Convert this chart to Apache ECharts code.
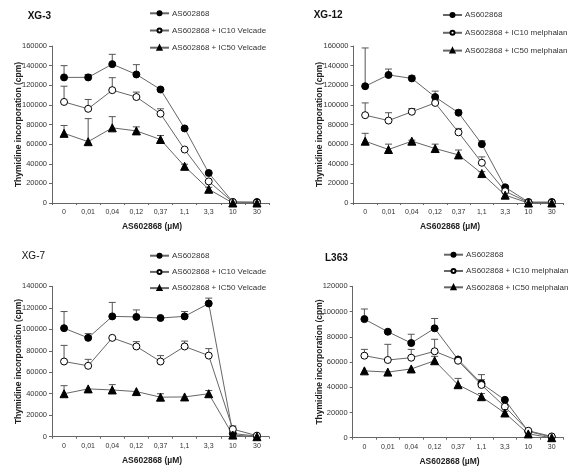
<!DOCTYPE html>
<html><head><meta charset="utf-8">
<script src="https://cdn.jsdelivr.net/npm/echarts@6/dist/echarts.min.js"></script>
<style>html,body{margin:0;padding:0;background:#fff}#c{width:575px;height:469px}</style>
</head><body><div id="c"></div>
<script>
const categories = ['0','0,01','0,04','0,12','0,37','1,1','3,3','10','30'];

const xg3_as = [128000,128000,141500,131000,115700,76000,30600,1000,1000];
const xg3_as_err = [140000,131000,151500,141000,117000,null,null,null,null];
const xg3_ic10 = [103000,96000,115000,108000,91000,54500,22000,1000,500];
const xg3_ic10_err = [119000,105500,127700,113000,96000,null,null,null,null];
const xg3_ic50 = [71000,62500,76600,73500,64700,37400,14000,0,0];
const xg3_ic50_err = [79000,86000,88000,77600,68800,39500,16000,null,null];

const xg12_as = [119000,130500,127000,108000,92000,60000,16000,1000,1000];
const xg12_as_err = [158000,136500,129500,114000,94600,63500,17500,null,null];
const xg12_ic10 = [89500,84000,93000,102000,72000,41000,12000,500,500];
const xg12_ic10_err = [102000,92000,96300,104000,76000,47000,null,null,null];
const xg12_ic50 = [63000,54500,63000,55500,49000,30000,8000,0,0];
const xg12_ic50_err = [71000,60000,64000,60000,54000,32000,null,null,null];

const xg7_as = [101000,92000,112000,111500,110500,112000,124000,3000,500];
const xg7_as_err = [116500,96000,125000,118000,null,116500,129000,null,null];
const xg7_ic10 = [70000,66000,92000,84000,70000,84000,75500,7000,1000];
const xg7_ic10_err = [85000,72000,null,88500,75500,89000,82000,10000,null];
const xg7_ic50 = [40000,44500,43500,42000,36800,37000,40000,1500,0];
const xg7_ic50_err = [47500,null,48500,null,40000,null,43000,null,null];

const l363_as = [94000,84000,75000,86700,62000,43000,30000,5000,500];
const l363_as_err = [102000,null,82000,94500,null,50000,null,null,null];
const l363_ic10 = [65000,61600,63400,68500,61000,41800,24600,5500,1000];
const l363_ic10_err = [70000,74000,70000,78000,null,46000,null,null,null];
const l363_ic50 = [53000,52000,54500,61000,42000,32500,19600,3000,0];
const l363_ic50_err = [null,null,null,64500,47000,35000,21000,null,null];

const panels = [
  {title:'XG-3', bold:true, tx:22.7, ty:6, drug:'Velcade', max:160000,
   grid:{left:52, top:46, width:217, height:157}, leg:{left:149, top:8.3, gap:7.2},
   s:[[xg3_as,xg3_as_err],[xg3_ic10,xg3_ic10_err],[xg3_ic50,xg3_ic50_err]]},
  {title:'XG-12', bold:true, tx:308.7, ty:5, drug:'melphalan', max:160000,
   grid:{left:353.5, top:46, width:210, height:157}, leg:{left:442, top:10, gap:7.8},
   s:[[xg12_as,xg12_as_err],[xg12_ic10,xg12_ic10_err],[xg12_ic50,xg12_ic50_err]]},
  {title:'XG-7', bold:false, tx:16.7, ty:246, drug:'Velcade', max:140000,
   grid:{left:52, top:286.3, width:217, height:150.4}, leg:{left:149, top:250.7, gap:6.2},
   s:[[xg7_as,xg7_as_err],[xg7_ic10,xg7_ic10_err],[xg7_ic50,xg7_ic50_err]]},
  {title:'L363', bold:true, tx:320, ty:248, drug:'melphalan', max:120000,
   grid:{left:352.7, top:286.3, width:210.7, height:151.4}, leg:{left:443, top:249.7, gap:6.3},
   s:[[l363_as,l363_as_err],[l363_ic10,l363_ic10_err],[l363_ic50,l363_ic50_err]]}
];

const FONT = 'Liberation Sans';
const styles = [
  {symbol:'circle', symbolSize:7, itemStyle:{color:'#000', borderColor:'#000', borderWidth:1}},
  {symbol:'circle', symbolSize:7, itemStyle:{color:'#fff', borderColor:'#000', borderWidth:1}},
  {symbol:'triangle', symbolSize:8, itemStyle:{color:'#000', borderColor:'#000', borderWidth:1}}
];

const option = {animation:false, backgroundColor:'#fff', title:[], grid:[], xAxis:[], yAxis:[], legend:[], series:[]};

panels.forEach((p, gi) => {
  option.title.push({text:p.title, left:p.tx, top:p.ty, textStyle:{fontFamily:FONT, fontSize:10, fontWeight:p.bold?'bold':'normal', color:'#111'}});
  option.grid.push(Object.assign({containLabel:false}, p.grid));
  option.xAxis.push({type:'category', gridIndex:gi, data:categories, boundaryGap:true,
    name:'AS602868 (µM)', nameLocation:'middle', nameGap:19, nameMoveOverlap:false,
    nameTextStyle:{fontFamily:FONT, fontSize:8.5, fontWeight:'bold', color:'#222', padding:[0,17,0,0]},
    axisLine:{lineStyle:{color:'#666', width:1}},
    axisTick:{show:true, length:2, lineStyle:{color:'#666'}},
    axisLabel:{fontFamily:FONT, fontSize:7, color:'#333', margin:6, interval:0}});
  option.yAxis.push({type:'value', gridIndex:gi, min:0, max:p.max, interval:20000,
    name:'Thymidine incorporation (cpm)', nameLocation:'middle', nameGap:29, nameMoveOverlap:false,
    nameTextStyle:{fontFamily:FONT, fontSize:8.5, fontWeight:'bold', color:'#222'},
    axisLine:{show:true, lineStyle:{color:'#666', width:1}},
    axisTick:{show:true, length:3, lineStyle:{color:'#666'}},
    splitLine:{show:false},
    axisLabel:{fontFamily:FONT, fontSize:7.5, color:'#333', margin:5, formatter:v => String(v)}});
  const names = ['AS602868', 'AS602868 + IC10 ' + p.drug, 'AS602868 + IC50 ' + p.drug];
  option.legend.push({orient:'vertical', left:p.leg.left, top:p.leg.top, padding:0, itemWidth:19, itemHeight:5, itemGap:p.leg.gap,
    data:names, textStyle:{fontFamily:FONT, fontSize:8, color:'#333', lineHeight:10, padding:[0,0,0,-2]}, selectedMode:false});
  p.s.forEach((pair, si) => {
    const vals = pair[0], errs = pair[1];
    const ed = [];
    vals.forEach((v, i) => { if (errs[i] != null) ed.push([i, v, errs[i]]); });
    option.series.push({type:'custom', xAxisIndex:gi, yAxisIndex:gi, z:1, silent:true,
      data:ed, encode:{x:0, y:[1,2]},
      renderItem:(params, api) => {
        const a = api.coord([api.value(0), api.value(1)]);
        const b = api.coord([api.value(0), api.value(2)]);
        const st = {stroke:'#555', lineWidth:1};
        return {type:'group', children:[
          {type:'line', shape:{x1:a[0], y1:a[1], x2:b[0], y2:b[1]}, style:st},
          {type:'line', shape:{x1:b[0]-3.5, y1:b[1], x2:b[0]+3.5, y2:b[1]}, style:st}
        ]};
      }});
    option.series.push(Object.assign({type:'line', name:names[si], xAxisIndex:gi, yAxisIndex:gi, z:3,
      data:vals, showAllSymbol:true, lineStyle:{color:'#666', width:1}}, styles[si]));
  });
});

const chart = echarts.init(document.getElementById('c'), null, {renderer:'canvas'});
chart.setOption(option);
</script></body></html>
